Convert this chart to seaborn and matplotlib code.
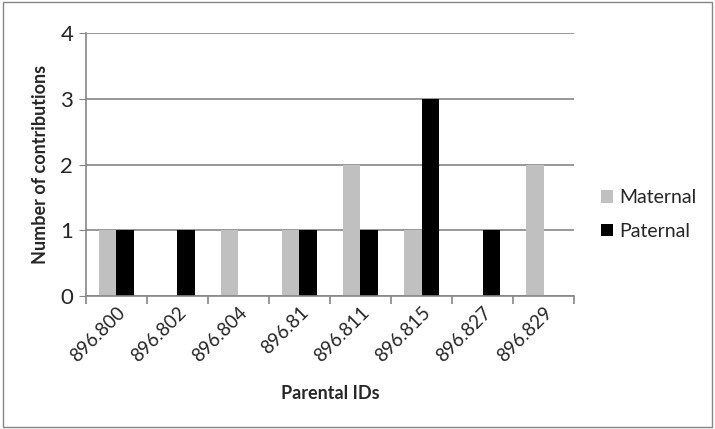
import pandas as pd
import matplotlib.pyplot as plt
import seaborn as sns
from matplotlib.patches import Rectangle

# Chart data
parental_ids = ["896.800", "896.802", "896.804", "896.81", "896.811", "896.815", "896.827", "896.829"]
maternal = [1, 0, 1, 1, 2, 1, 0, 2]
paternal = [1, 1, 0, 1, 1, 3, 1, 0]

df = pd.DataFrame({
    "Parental ID": parental_ids * 2,
    "Count": maternal + paternal,
    "Parent": ["Maternal"] * len(parental_ids) + ["Paternal"] * len(parental_ids),
})

sns.set_style("white")
plt.rcParams["font.family"] = ["Lato", "DejaVu Sans"]

fig = plt.figure(figsize=(7.15, 4.29), dpi=100)
ax = fig.add_axes([0.120, 0.310, 0.683, 0.613])

sns.barplot(data=df, x="Parental ID", y="Count", hue="Parent",
            palette={"Maternal": "#c0c0c0", "Paternal": "#000000"},
            width=0.57, saturation=1, ax=ax, edgecolor="none")

# Axes styling
ax.set_ylim(0, 4)
ax.set_xlim(-0.5, len(parental_ids) - 0.5)
ax.set_yticks(range(5))
ax.yaxis.grid(True, color="#868686", linewidth=1.2)
ax.set_axisbelow(True)
for s in ["top", "right"]:
    ax.spines[s].set_visible(False)
for s in ["left", "bottom"]:
    ax.spines[s].set_color("#868686")
    ax.spines[s].set_linewidth(1.2)

ax.tick_params(axis="y", left=True, length=5, color="#868686", labelsize=16, pad=4)
ax.tick_params(axis="x", bottom=False, labelsize=13.5, pad=2)
ax.set_xticks([i - 0.5 for i in range(len(parental_ids) + 1)], minor=True)
ax.tick_params(axis="x", which="minor", bottom=True, length=6, color="#868686", width=1.2)
plt.setp(ax.get_xticklabels(), rotation=45, ha="right", rotation_mode="anchor")

ax.set_xlabel("Parental IDs", fontsize=13, fontweight="bold", labelpad=14)
ax.set_ylabel("Number of contributions", fontsize=13, fontweight="bold", labelpad=8)

ax.legend(loc="center left", bbox_to_anchor=(1.02, 0.31), frameon=False,
          fontsize=14, handlelength=0.6, handleheight=0.6, handletextpad=0.3,
          labelspacing=0.85)

# Chart border
fig.patches.append(Rectangle((0.004, 0.005), 0.992, 0.99, transform=fig.transFigure,
                             fill=False, edgecolor="#868686", linewidth=1))

plt.savefig("out.png", dpi=100)
